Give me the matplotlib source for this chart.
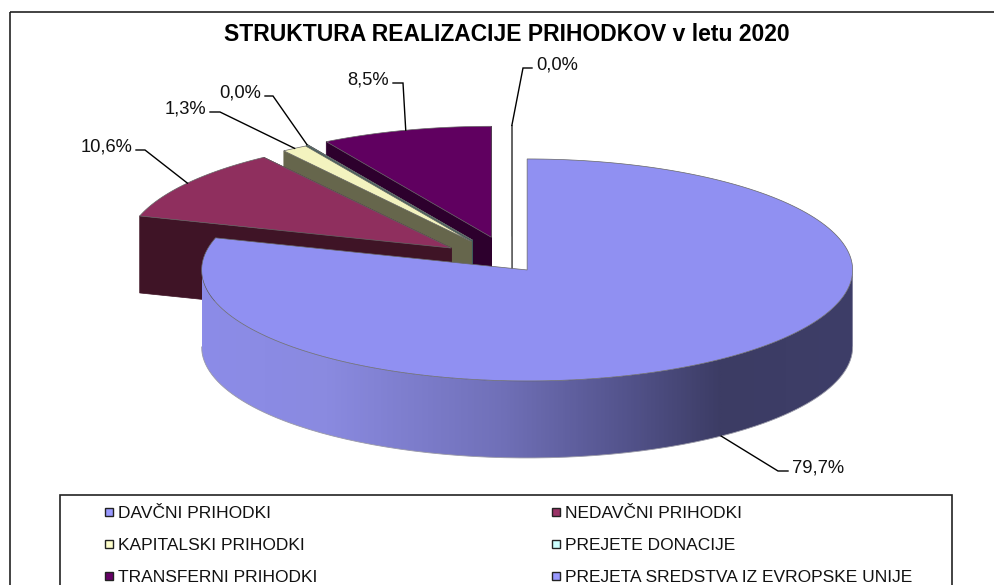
import numpy as np
import matplotlib
matplotlib.use('Agg')
import matplotlib.pyplot as plt
from matplotlib.colors import LinearSegmentedColormap
from matplotlib.patches import Polygon, Rectangle

plt.rcParams['font.family'] = ['Liberation Sans', 'DejaVu Sans']

# Data:
categories = ['DAVČNI PRIHODKI', 'NEDAVČNI PRIHODKI', 'KAPITALSKI PRIHODKI',
              'PREJETE DONACIJE', 'TRANSFERNI PRIHODKI',
              'PREJETA SREDSTVA IZ EVROPSKE UNIJE']
values = [79.67, 10.56, 1.27, 0.03, 8.46, 0.01]
title = 'STRUKTURA REALIZACIJE PRIHODKOV v letu 2020'

# Style:
top_colors = ['#9090f2', '#8f2f5e', '#f3f3bf', '#ccffff', '#600060', '#ffffff']
wall_colors = ['#50508a', '#3f1426', '#66664c', '#3f6060', '#2d002d', '#ffffff']
legend_colors = ['#9999ff', '#993366', '#ffffcc', '#ccffff', '#660066', '#9999ff']
explode = [0.078, 0.23, 0.23, 0.24, 0.24, 0.24]
edge = '#666666'

# pie geometry in pixels:
cx, cy = 512, 263
rx, ry = 325.5, 111
depth = 77

fig = plt.figure(figsize=(9.95, 5.85), dpi=100)
ax = fig.add_axes([0, 0, 1, 1])


def rim_point(tip, deg):
    # point on the top ellipse, deg clockwise from north:
    a = np.radians(deg)
    return tip[0] + rx * np.sin(a), tip[1] - ry * np.cos(a)


def arc(tip, a0, a1):
    t = np.linspace(a0, a1, 200)
    x, y = rim_point(tip, t)
    return np.column_stack([x, y])


def quad(p0, p1, color, line, z):
    pts = [p0, p1, (p1[0], p1[1] + depth), (p0[0], p0[1] + depth)]
    ax.add_patch(Polygon(pts, closed=True, facecolor=color, edgecolor=line,
                         lw=0.5, zorder=z))


# work out slice angles and tips:
total = sum(values)
edges = np.concatenate([[0], np.cumsum(values)]) * 360 / total
mids = (edges[:-1] + edges[1:]) / 2
tips = []
for m, e in zip(mids, explode):
    a = np.radians(m)
    tips.append((cx + e * rx * np.sin(a), cy - e * ry * np.cos(a)))

# back slices first, the big one goes on top of them:
z = 2
for i in [5, 4, 3, 2, 1, 0]:
    tip = tips[i]
    a0, a1 = edges[i], edges[i + 1]
    if i > 0:
        # the white slice only shows through its grey outline
        line = edge if i == 5 else wall_colors[i]
        quad(tip, rim_point(tip, a1), wall_colors[i], line, z)
        quad(tip, rim_point(tip, a0), wall_colors[i], line, z + 0.1)
    else:
        # gradient on the front rim:
        front = arc(tip, 90, 270)
        back = front[::-1] + [0, depth]
        clip = Polygon(np.vstack([front, back]), closed=True,
                       transform=ax.transData, facecolor='none', edgecolor='none')
        ax.add_patch(clip)
        stops = [(0.0, '#8c8ce8'), (0.19, '#8a8ae0'), (0.46, '#7070b8'),
                 (0.66, '#52528a'), (0.80, '#3c3c64'), (1.0, '#3e3e68')]
        cmap = LinearSegmentedColormap.from_list('rim', stops)
        im = ax.imshow(np.linspace(0, 1, 400).reshape(1, -1), cmap=cmap,
                       extent=(front[:, 0].min(), front[:, 0].max(),
                               cy + 200, cy - 50),
                       aspect='auto', zorder=z + 0.2)
        im.set_clip_path(clip)
        ax.plot(back[:, 0], back[:, 1], color='#9a9aa8', lw=0.6, zorder=z + 0.3)
    pts = np.vstack([[tip], arc(tip, a0, a1)])
    ax.add_patch(Polygon(pts, closed=True, facecolor=top_colors[i],
                         edgecolor=edge, lw=0.5, zorder=z + 0.5))
    z += 1

# labels with leader lines, (elbow x, elbow y, end x):
leaders = [(778, 471, 788), (145, 150, 136), (220, 112, 210),
           (273, 96, 265), (403, 83, 393), (523, 68, 532)]
for i, (ex, ey, end) in enumerate(leaders):
    ax0, ay0 = rim_point(tips[i], mids[i])
    if i == 0:
        ay0 += depth
    ax.plot([ax0, ex, end], [ay0, ey, ey], color='black', lw=1.0, zorder=20,
            solid_joinstyle='miter')
    side = 4 if end > ex else -4
    ax.text(end + side, ey - 3, ('%0.1f%%' % values[i]).replace('.', ','),
            fontsize=13.2, va='center', ha='left' if side > 0 else 'right',
            color='#111111', zorder=21)

ax.text(507, 34.5, title, fontsize=16.5, fontweight='bold', ha='center',
        va='center', color='black')

# chart frame, it runs off the right and bottom of the picture:
ax.add_patch(Rectangle((9.5, 11.5), 1100, 700, facecolor='none',
                       edgecolor='#222222', lw=1.2, zorder=1))

# legend box:
ax.add_patch(Rectangle((59.5, 495), 892.5, 200, facecolor='white',
                       edgecolor='#222222', lw=1.2, zorder=25))
legend_x = [105, 552]
legend_y = [512, 544, 576]
for i, name in enumerate(categories):
    lx = legend_x[i % 2]
    ly = legend_y[i // 2]
    ax.add_patch(Rectangle((lx, ly - 4), 8, 8, facecolor=legend_colors[i],
                           edgecolor='#222222', lw=1.0, zorder=26))
    ax.text(lx + 13, ly + 1, name, fontsize=12.5, va='center', ha='left',
            color='#111111', zorder=27)

ax.set_xlim(0, 995)
ax.set_ylim(585, 0)
ax.axis('off')
plt.savefig('out.png', dpi=100)
